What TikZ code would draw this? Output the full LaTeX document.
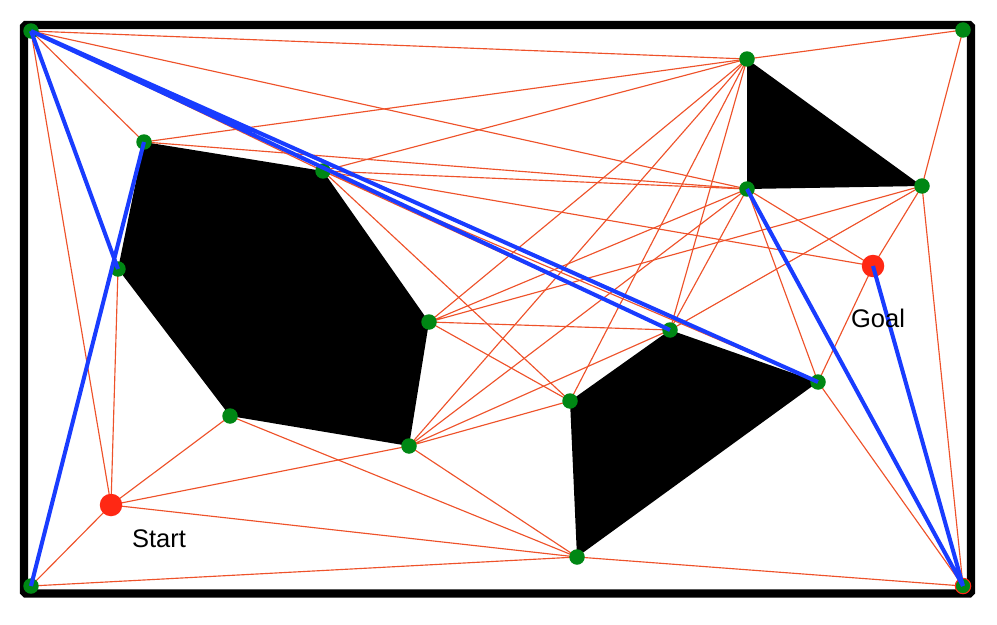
\documentclass[tikz,border=0pt]{standalone}
\usepackage{fontspec}
\usepackage{tikz}
\usetikzlibrary{backgrounds}
\newfontfamily\labelfont{Liberation Sans}
\definecolor{mblue}{RGB}{25,60,255}
\definecolor{mred}{RGB}{238,82,42}
\definecolor{mgreen}{RGB}{0,135,20}
\definecolor{mdot}{RGB}{255,40,20}
\tikzset{
  vtx/.style={circle, fill=mgreen, inner sep=0pt, minimum size=0.31cm},
  endpt/.style={circle, fill=mdot, inner sep=0pt, minimum size=0.45cm},
  vis/.style={mred, line width=0.65pt},
  route/.style={mblue, line width=2.3pt},
  lbl/.style={anchor=base, inner sep=0pt, font=\labelfont\fontsize{14.5}{16}\selectfont},
}

\begin{document}
\begin{tikzpicture}[x=0.02cm, y=-0.02cm]
  \useasboundingbox (0,0) rectangle (997,625);

  % corners of the room
  \node[vtx] (TL) at (31,31) {};
  \node[vtx] (TR) at (963,30) {};
  \node[vtx] (BL) at (31,586) {};
  \node[vtx, draw=mdot, line width=0.6pt] (BR) at (963,586) {};
  % hexagon
  \node[vtx] (A1) at (144,142) {};
  \node[vtx] (A2) at (323,171) {};
  \node[vtx] (A3) at (429,322) {};
  \node[vtx] (A4) at (409,446) {};
  \node[vtx] (A5) at (230,416) {};
  \node[vtx] (A6) at (118,269) {};
  % triangle
  \node[vtx] (B1) at (747,59) {};
  \node[vtx] (B2) at (747,189) {};
  \node[vtx] (B3) at (922,186) {};
  % quadrilateral
  \node[vtx] (C1) at (670,330) {};
  \node[vtx] (C2) at (818,382) {};
  \node[vtx] (C3) at (577,557) {};
  \node[vtx] (C4) at (570,401) {};
  % start and goal
  \node[endpt] (S) at (111,505) {};
  \node[endpt] (G) at (873,266) {};

  \begin{scope}[on background layer]
    \draw [line width=4.7pt, rounded corners=1pt] (24,25) rectangle (971,593.5);
    \fill (A1.center) -- (A2.center) -- (A3.center) -- (A4.center) -- (A5.center) -- (A6.center) -- cycle;
    \fill (B1.center) -- (B3.center) -- (B2.center) -- cycle;
    \fill (C1.center) -- (C2.center) -- (C3.center) -- (C4.center) -- cycle;

    % visibility edges
    \draw [vis] (TL.center) -- (A1.center) (TL.center) -- (A2.center) (TL.center) -- (A6.center) (TL.center) -- (B1.center)
      (TL.center) -- (B2.center) (TL.center) -- (C1.center) (TL.center) -- (C2.center) (TL.center) -- (S.center);
    \draw [vis] (TR.center) -- (B1.center) (TR.center) -- (B3.center);
    \draw [vis] (BL.center) -- (S.center) (BL.center) -- (A1.center) (BL.center) -- (C3.center);
    \draw [vis] (BR.center) -- (C3.center) (BR.center) -- (C2.center) (BR.center) -- (B3.center) (BR.center) -- (B2.center) (BR.center) -- (G.center);
    \draw [vis] (S.center) -- (A6.center) (S.center) -- (A5.center) (S.center) -- (A4.center) (S.center) -- (C3.center);
    \draw [vis] (A5.center) -- (C3.center);
    \draw [vis] (A1.center) -- (B1.center) (A1.center) -- (B2.center);
    \draw [vis] (A2.center) -- (B1.center) (A2.center) -- (B2.center) (A2.center) -- (G.center) (A2.center) -- (C1.center)
      (A2.center) -- (C2.center) (A2.center) -- (C4.center);
    \draw [vis] (A3.center) -- (B1.center) (A3.center) -- (B2.center) (A3.center) -- (B3.center) (A3.center) -- (C1.center) (A3.center) -- (C4.center);
    \draw [vis] (A4.center) -- (B1.center) (A4.center) -- (B2.center) (A4.center) -- (C1.center) (A4.center) -- (C4.center) (A4.center) -- (C3.center);
    \draw [vis] (B1.center) -- (C4.center) (B1.center) -- (C1.center);
    \draw [vis] (B2.center) -- (C1.center) (B2.center) -- (G.center) (B2.center) -- (C2.center);
    \draw [vis] (B3.center) -- (C1.center) (B3.center) -- (G.center);
    \draw [vis] (C2.center) -- (G.center);
  \end{scope}

  % shortest path
  \draw [route] (TL.center) -- (A6.center) (A1.center) -- (BL.center) (TL.center) -- (C1.center)
    (TL.center) -- (C2.center) (B2.center) -- (BR.center) (G.center) -- (BR.center);

  \node [lbl] (startlbl) at (159,547) {Start};
  \node [lbl] (goallbl) at (878,327) {Goal};
\end{tikzpicture}
\end{document}
